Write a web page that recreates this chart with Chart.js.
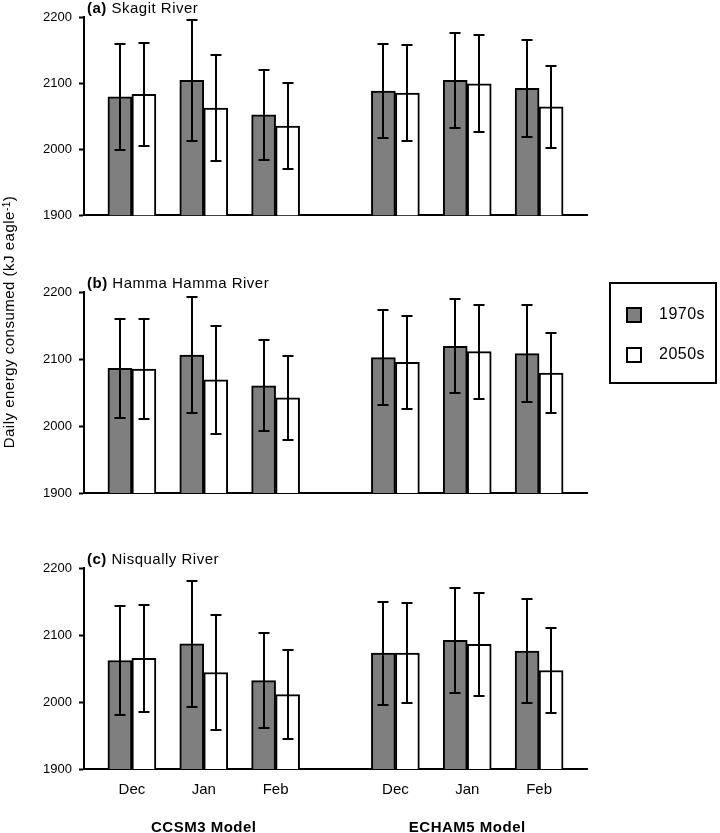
<!DOCTYPE html>
<html><head><meta charset="utf-8">
<script src="https://cdn.jsdelivr.net/npm/chart.js@4.4.0/dist/chart.umd.min.js"></script>
<style>
html,body{margin:0;padding:0;background:#fff;}
#wrap{position:relative;width:720px;height:833px;overflow:hidden;background:#fff;}
canvas{position:absolute;left:0;}
</style></head><body>
<div id="wrap">
<canvas id="ca" width="720" height="230" style="top:0px"></canvas>
<canvas id="cb" width="720" height="320" style="top:190px"></canvas>
<canvas id="cc" width="720" height="313" style="top:520px"></canvas>
</div>
<script>
// ---- data ----
const months = ['Dec', 'Jan', 'Feb'];
const models = ['CCSM3 Model', 'ECHAM5 Model'];
const series = ['1970s', '2050s'];
const yTicks = [1900, 2000, 2100, 2200];
const yTitle = 'Daily energy consumed (kJ eagle';
const yTitleSup = '-1';

// (a) Skagit River  (CCSM3 Dec,Jan,Feb, ECHAM5 Dec,Jan,Feb)
const skagit1970 = [2079, 2104, 2052, 2088, 2104, 2092];
const skagit1970Err = [80, 91, 68, 71, 72, 73];
const skagit2050 = [2083, 2062, 2035, 2085, 2099, 2064];
const skagit2050Err = [78, 80, 65, 72, 73, 62];
// (b) Hamma Hamma River
const hamma1970 = [2086, 2106, 2060, 2102, 2119, 2108];
const hamma1970Err = [74, 86, 68, 71, 70, 72];
const hamma2050 = [2085, 2069, 2042, 2095, 2111, 2079];
const hamma2050Err = [74, 81, 63, 69, 70, 60];
// (c) Nisqually River
const nisq1970 = [2062, 2087, 2032, 2073, 2092, 2076];
const nisq1970Err = [81, 94, 71, 77, 78, 77];
const nisq2050 = [2065, 2044, 2011, 2073, 2086, 2047];
const nisq2050Err = [80, 86, 66, 75, 77, 63];

// ---- category slots (month groups with a wider gap between models) ----
const EDGE = 2, STEP = 3, GAP = 5;
const slotIdx = [];
models.forEach((m, mi) => months.forEach((mo, j) => {
  slotIdx.push(EDGE + j * STEP + mi * (STEP * (months.length - 1) + GAP));
}));
const nSlots = slotIdx[slotIdx.length - 1] + EDGE + 1;
const slotLabels = new Array(nSlots).fill('');
slotIdx.forEach((s, i) => { slotLabels[s] = months[i % months.length]; });
const pad = arr => { const a = new Array(nSlots).fill(null); slotIdx.forEach((s, i) => { a[s] = arr[i]; }); return a; };

const FONT = '"Liberation Sans", Arial, Helvetica, sans-serif';
Chart.defaults.font.family = FONT;
Chart.defaults.color = '#000';

const panelPlugin = {
  id: 'panelDeco',
  afterDatasetsDraw(chart) {
    const ctx = chart.ctx, y = chart.scales.y;
    ctx.save();
    ctx.strokeStyle = '#000'; ctx.lineWidth = 2; ctx.lineCap = 'butt';
    chart.data.datasets.forEach((ds, di) => {
      const meta = chart.getDatasetMeta(di);
      meta.data.forEach((el, i) => {
        const v = ds.data[i], e = ds.errors[i];
        if (v == null || e == null) return;
        const top = Math.round(y.getPixelForValue(v + e));
        const bot = Math.round(y.getPixelForValue(v - e));
        const cx = Math.round(el.x);
        ctx.beginPath();
        ctx.moveTo(cx, top); ctx.lineTo(cx, bot);
        ctx.moveTo(cx - 5.5, top); ctx.lineTo(cx + 5.5, top);
        ctx.moveTo(cx - 5.5, bot); ctx.lineTo(cx + 5.5, bot);
        ctx.stroke();
      });
    });
    ctx.restore();
  },
  afterDraw(chart, args, opts) {
    const ctx = chart.ctx, area = chart.chartArea;
    ctx.save();
    ctx.fillStyle = '#000';
    try { ctx.letterSpacing = '0.5px'; } catch (e) {}
    // panel title
    ctx.textBaseline = 'alphabetic'; ctx.textAlign = 'left';
    ctx.font = 'bold 15px ' + FONT;
    const tx = area.left + 3, ty = area.top - 4;
    ctx.fillText(opts.letter, tx, ty);
    const lw = ctx.measureText(opts.letter + ' ').width;
    ctx.font = '15px ' + FONT;
    ctx.fillText(opts.name, tx + lw, ty);

    if (opts.legend) {
      const L = opts.legend;
      ctx.strokeStyle = '#000'; ctx.lineWidth = 2;
      ctx.strokeRect(L.x + 1, L.y + 1, L.w - 2, L.h - 2);
      chart.data.datasets.forEach((ds, i) => {
        const sy = L.y + 25 + i * 40;
        ctx.fillStyle = ds.backgroundColor;
        ctx.fillRect(L.x + 17, sy, 16, 16);
        ctx.strokeRect(L.x + 18, sy + 1, 14, 14);
        ctx.fillStyle = '#000';
        ctx.font = '16px ' + FONT;
        ctx.textBaseline = 'middle';
        ctx.fillText(ds.label, L.x + 50, sy + 8);
      });
    }
    if (opts.yTitle) {
      const T = opts.yTitle;
      ctx.save();
      ctx.translate(T.x, T.y); ctx.rotate(-Math.PI / 2);
      ctx.textBaseline = 'alphabetic'; ctx.textAlign = 'left';
      const f1 = '15px ' + FONT, f2 = '10px ' + FONT;
      ctx.font = f1; const w1 = ctx.measureText(yTitle).width, w3 = ctx.measureText(')').width;
      ctx.font = f2; const w2 = ctx.measureText(yTitleSup).width;
      let x0 = -(w1 + w2 + w3) / 2;
      ctx.fillStyle = '#000';
      ctx.font = f1; ctx.fillText(yTitle, x0, 4.5); x0 += w1;
      ctx.font = f2; ctx.fillText(yTitleSup, x0, 0.5); x0 += w2;
      ctx.font = f1; ctx.fillText(')', x0, 4.5);
      ctx.restore();
    }
    if (opts.models) {
      ctx.font = 'bold 15px ' + FONT;
      ctx.textAlign = 'center'; ctx.textBaseline = 'middle';
      const xs = chart.scales.x;
      models.forEach((m, mi) => {
        const mid = slotIdx[mi * months.length + 1];
        ctx.fillText(m, xs.getPixelForValue(mid), opts.models.y);
      });
    }
    ctx.restore();
  }
};

function makePanel(id, letter, name, d1, e1, d2, e2, o) {
  return new Chart(document.getElementById(id), {
    type: 'bar',
    data: {
      labels: slotLabels,
      datasets: [
        { label: series[0], data: pad(d1), errors: pad(e1), backgroundColor: '#7f7f7f',
          borderColor: '#000', borderWidth: 2, borderSkipped: false, barThickness: 24 },
        { label: series[1], data: pad(d2), errors: pad(e2), backgroundColor: '#ffffff',
          borderColor: '#000', borderWidth: 2, borderSkipped: false, barThickness: 24 }
      ]
    },
    options: {
      responsive: false, animation: false, devicePixelRatio: 1,
      layout: { padding: { top: o.top, right: 133, left: 0, bottom: 0 } },
      scales: {
        x: {
          type: 'category', offset: false,
          grid: { display: false },
          border: { display: true, color: '#000', width: 2 },
          ticks: { display: o.showX, autoSkip: false, maxRotation: 0, minRotation: 0,
                   padding: 4, color: '#000', font: { size: 15 } },
          afterFit: s => { s.height = o.xh; }
        },
        y: {
          min: yTicks[0], max: yTicks[yTicks.length - 1],
          grid: { display: true, drawOnChartArea: false, drawTicks: true, tickLength: 5,
                  tickColor: '#000', tickWidth: 2, color: '#000' },
          border: { display: true, color: '#000', width: 2 },
          ticks: { stepSize: yTicks[1] - yTicks[0], padding: 7, color: '#000',
                   font: { size: 13 }, callback: v => String(v) },
          afterFit: s => { s.width = 84; }
        }
      },
      plugins: {
        legend: { display: false }, tooltip: { enabled: false },
        panelDeco: Object.assign({ letter, name }, o.deco || {})
      }
    },
    plugins: [panelPlugin]
  });
}

makePanel('ca', '(a)', 'Skagit River', skagit1970, skagit1970Err, skagit2050, skagit2050Err,
  { top: 17, xh: 13, showX: false });
makePanel('cb', '(b)', 'Hamma Hamma River', hamma1970, hamma1970Err, hamma2050, hamma2050Err,
  { top: 102, xh: 17, showX: false,
    deco: { legend: { x: 609, y: 92, w: 108, h: 102 }, yTitle: { x: 9, y: 132 } } });
makePanel('cc', '(c)', 'Nisqually River', nisq1970, nisq1970Err, nisq2050, nisq2050Err,
  { top: 48, xh: 64, showX: true, deco: { models: { y: 308 } } });
</script>
</body></html>
